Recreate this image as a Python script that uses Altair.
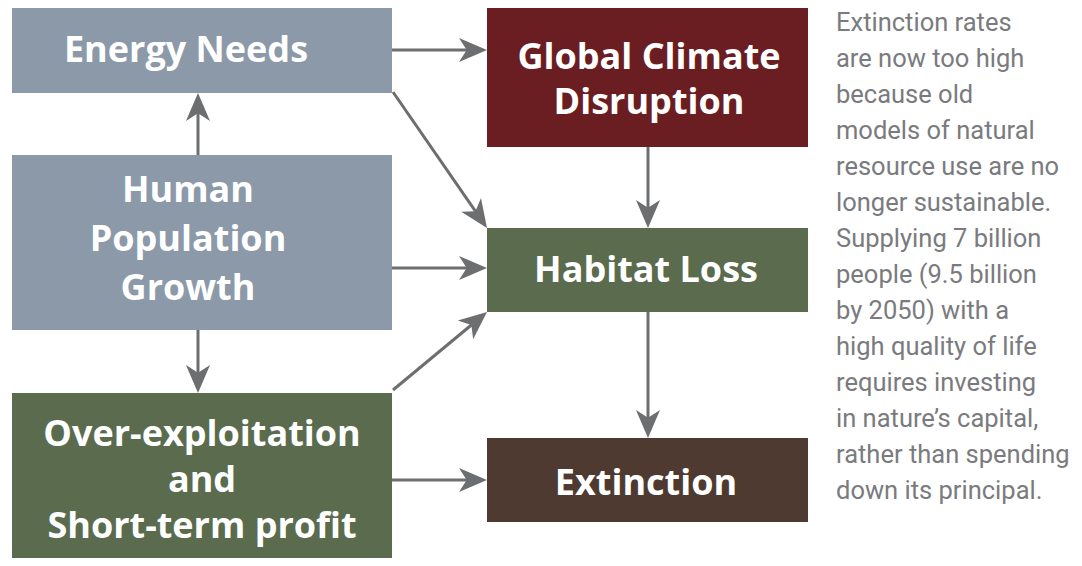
import math
import altair as alt
import pandas as pd

# ---------------- data ----------------
node_ids = ["energy", "population", "overexploit", "climate", "habitat", "extinction"]
node_labels = [
    "Energy Needs",
    "Human\nPopulation\nGrowth",
    "Over-exploitation\nand\nShort-term profit",
    "Global Climate\nDisruption",
    "Habitat Loss",
    "Extinction",
]
node_kinds = ["pressure", "pressure", "driver", "climate", "habitat", "outcome"]

edge_from = ["energy", "energy", "population", "population", "population",
             "overexploit", "overexploit", "climate", "habitat"]
edge_to = ["climate", "habitat", "energy", "habitat", "overexploit",
           "habitat", "extinction", "habitat", "extinction"]

note_lines = [
    "Extinction rates",
    "are now too high",
    "because old",
    "models of natural",
    "resource use are no",
    "longer sustainable.",
    "Supplying 7 billion",
    "people (9.5 billion",
    "by 2050) with a",
    "high quality of life",
    "requires investing",
    "in nature\u2019s capital,",
    "rather than spending",
    "down its principal.",
]

# ---------------- layout (pixel space of the diagram) ----------------
W, H = 1066, 550
OFF = 8  # page margin
box_layout = {  # x1, x2, y1, y2 (page pixels)
    "energy": (12, 392, 8, 93),
    "population": (12, 392, 155, 330),
    "overexploit": (12, 392, 393, 572),
    "climate": (487, 808, 8, 147),
    "habitat": (487, 808, 228, 312),
    "extinction": (487, 808, 438, 522),
}
label_layout = {  # center x, center y, line height
    "energy": (186, 51, 48),
    "population": (188, 240, 49),
    "overexploit": (202, 481, 46),
    "climate": (649, 80, 45),
    "habitat": (646, 271, 48),
    "extinction": (646, 484, 48),
}
edge_layout = {  # start (x, y), tip (x, y)
    ("energy", "climate"): ((392, 50), (487, 50)),
    ("energy", "habitat"): ((393, 92), (487, 228)),
    ("population", "energy"): ((198, 155), (198, 93)),
    ("population", "habitat"): ((392, 268), (487, 268)),
    ("population", "overexploit"): ((198, 330), (198, 393)),
    ("overexploit", "habitat"): ((393, 390), (487, 312)),
    ("overexploit", "extinction"): ((392, 480), (487, 480)),
    ("climate", "habitat"): ((648, 147), (648, 228)),
    ("habitat", "extinction"): ((648, 312), (648, 438)),
}
HEAD = 28
NOTE_X, NOTE_Y0, NOTE_DY = 836, 23, 36

kind_domain = ["pressure", "driver", "climate", "habitat", "outcome"]
kind_range = ["#8b99a8", "#5a6b4e", "#6a1e22", "#5a6b4e", "#4e3a30"]
ARROW = "#6d6e70"

# ---------------- tables ----------------
label_rows = []
for nid, lab, kind in zip(node_ids, node_labels, node_kinds):
    cx, cy, lh = label_layout[nid]
    parts = lab.split("\n")
    n = len(parts)
    for k, part in enumerate(parts):
        label_rows.append({
            "id": nid, "text": part,
            "lx": cx - OFF, "ly": cy - OFF + (k - (n - 1) / 2) * lh,
        })
label_df = pd.DataFrame(label_rows)

boxes = pd.DataFrame({"id": node_ids, "kind": node_kinds})
boxes["x1"] = [box_layout[i][0] - OFF for i in node_ids]
boxes["x2"] = [box_layout[i][1] - OFF for i in node_ids]
boxes["y1"] = [box_layout[i][2] - OFF for i in node_ids]
boxes["y2"] = [min(box_layout[i][3] - OFF, H) for i in node_ids]

rows_line, rows_head = [], []
for a, b in zip(edge_from, edge_to):
    (sx, sy), (tx, ty) = edge_layout[(a, b)]
    dx, dy = tx - sx, ty - sy
    L = math.hypot(dx, dy)
    ux, uy = dx / L, dy / L
    ex, ey = tx - ux * HEAD * 0.6, ty - uy * HEAD * 0.6
    cx, cy = tx - ux * HEAD / 2, ty - uy * HEAD / 2
    ang = math.degrees(math.atan2(dx, -dy)) % 360
    rows_line.append({"x": sx - OFF, "y": sy - OFF, "x2": ex - OFF, "y2": ey - OFF})
    rows_head.append({"x": cx - OFF, "y": cy - OFF, "angle": ang})
lines = pd.DataFrame(rows_line)
heads = pd.DataFrame(rows_head)

notes = pd.DataFrame({
    "text": note_lines,
    "x": [NOTE_X - OFF] * len(note_lines),
    "y": [NOTE_Y0 - OFF + i * NOTE_DY for i in range(len(note_lines))],
})

xs = alt.Scale(domain=[0, W], range=[0, W], nice=False, zero=False)
ys = alt.Scale(domain=[0, H], range=[0, H], nice=False, zero=False)
X = lambda f: alt.X(f, type="quantitative", scale=xs, axis=None)
Y = lambda f: alt.Y(f, type="quantitative", scale=ys, axis=None)

rects = alt.Chart(boxes).mark_rect().encode(
    x=X("x1"), x2="x2", y=Y("y1"), y2="y2",
    color=alt.Color("kind:N", scale=alt.Scale(domain=kind_domain, range=kind_range), legend=None),
)

labels = alt.Chart(label_df).mark_text(
    font="Open Sans", fontWeight="bold", fontSize=36, color="white",
    align="center", baseline="middle",
).encode(x=X("lx"), y=Y("ly"), text="text:N")

shafts = alt.Chart(lines).mark_rule(color=ARROW, strokeWidth=3).encode(
    x=X("x"), y=Y("y"), x2="x2", y2="y2"
)

arrow_path = "M0,-1 L0.86,1 L0,0.45 L-0.86,1 Z"
tips = alt.Chart(heads).mark_point(
    shape=arrow_path, filled=True, color=ARROW, opacity=1, size=HEAD * HEAD, strokeWidth=0,
).encode(x=X("x"), y=Y("y"), angle=alt.Angle("angle:Q", scale=None))

note = alt.Chart(notes).mark_text(
    font="Roboto", fontSize=25.5, color="#7a7b7e", align="left", baseline="middle",
).encode(x=X("x"), y=Y("y"), text="text:N")

chart = alt.layer(rects, shafts, tips, labels, note).properties(
    width=W, height=H, padding=0, autosize=alt.AutoSizeParams(type="none"),
).configure_view(stroke=None)

chart.save("out.html", embed_options={"renderer": "svg", "actions": False})
